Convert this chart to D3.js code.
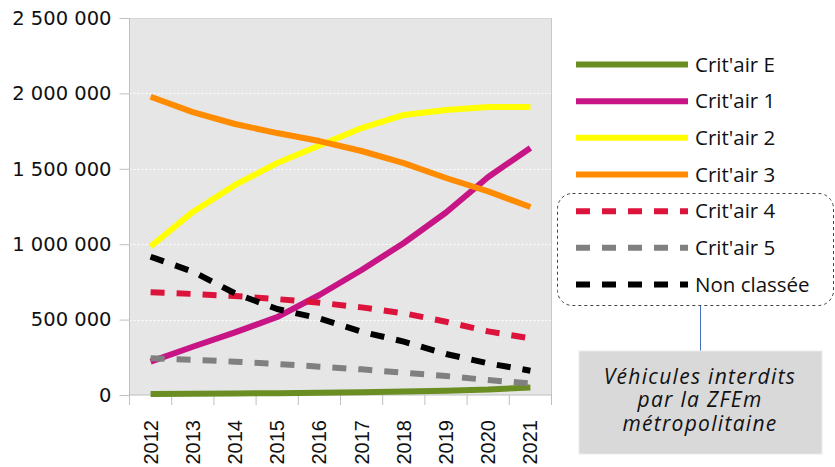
<!DOCTYPE html>
<html>
<head>
<meta charset="utf-8">
<script src="https://cdn.jsdelivr.net/npm/d3@7"></script>
<style>
  html, body { margin: 0; padding: 0; background: #fff; }
  svg { display: block; }
</style>
</head>
<body>
<svg id="chart" width="835" height="467"></svg>
<script>
const years = ["2012","2013","2014","2015","2016","2017","2018","2019","2020","2021"];
const yTicks = [0, 500000, 1000000, 1500000, 2000000, 2500000];
const seriesNames = ["Crit'air E","Crit'air 1","Crit'air 2","Crit'air 3","Crit'air 4","Crit'air 5","Non classée"];
const seriesColors = ["#6b8e23","#c71585","#ffff00","#ff8c00","#dc143c","#808080","#000000"];
const seriesDashed = [false,false,false,false,true,true,true];
const critairE   = [7000, 8000, 10000, 12000, 15000, 19000, 24000, 29000, 36000, 50000];
const critair1   = [221000, 320000, 415000, 517000, 663000, 829000, 1008000, 1210000, 1446000, 1638000];
const critair2   = [985000, 1214000, 1393000, 1538000, 1655000, 1770000, 1857000, 1890000, 1910000, 1910000];
const critair3   = [1978000, 1876000, 1797000, 1737000, 1684000, 1618000, 1538000, 1439000, 1350000, 1247000];
const critair4   = [681000, 670000, 656000, 636000, 612000, 581000, 542000, 486000, 422000, 376000];
const critair5   = [243000, 234000, 221000, 206000, 188000, 170000, 148000, 126000, 99000, 77000];
const nonClassee = [917000, 818000, 674000, 570000, 508000, 420000, 354000, 272000, 210000, 161000];
const seriesValues = [critairE, critair1, critair2, critair3, critair4, critair5, nonClassee];
const annotationLines = ["Véhicules interdits", "par la ZFEm", "métropolitaine"];

const svg = d3.select("#chart");
const pLeft = 129.5, pRight = 551.5, pTop = 18, pBottom = 395;

const x = d3.scaleBand().domain(years).range([pLeft, pRight]).paddingInner(0).paddingOuter(0);
const y = d3.scaleLinear().domain([0, 2500000]).range([pBottom, pTop]);

// plot background
svg.append("rect").attr("x", pLeft).attr("y", pTop).attr("width", pRight - pLeft).attr("height", pBottom - pTop).attr("fill", "#e6e6e6");

// gridlines
svg.append("g").selectAll("line").data(yTicks.filter(d => d > 0 && d < 2500000)).join("line")
  .attr("x1", pLeft).attr("x2", pRight).attr("y1", d => Math.round(y(d)) + 0.5).attr("y2", d => Math.round(y(d)) + 0.5)
  .attr("stroke", "#ffffff").attr("stroke-width", 1).attr("stroke-dasharray", "2,2");
svg.append("line").attr("x1", pLeft).attr("x2", pRight).attr("y1", pTop + 0.5).attr("y2", pTop + 0.5)
  .attr("stroke", "#c8c8c8").attr("stroke-width", 1).attr("stroke-dasharray", "1,1");
// right border
svg.append("line").attr("x1", pRight).attr("x2", pRight).attr("y1", pTop).attr("y2", pBottom)
  .attr("stroke", "#c8c8c8").attr("stroke-width", 1);

// y axis
const yAxis = d3.axisLeft(y).tickValues(yTicks).tickSize(10).tickPadding(8)
  .tickFormat(d => d3.format(",")(d).replace(/,/g, " "));
const gy = svg.append("g").attr("transform", `translate(${pLeft},0)`).call(yAxis);
gy.select(".domain").attr("stroke", "#bfbfbf").attr("d", `M0,${pTop}V${pBottom}`);
gy.selectAll(".tick line").attr("stroke", "#bfbfbf");
gy.selectAll(".tick text").attr("font-family", "'DejaVu Sans', sans-serif").attr("font-size", 19.5).attr("fill", "#111");

// x axis
const gx = svg.append("g").attr("transform", `translate(0,${pBottom})`);
gx.append("line").attr("x1", pLeft).attr("x2", pRight).attr("y1", 0).attr("y2", 0).attr("stroke", "#bfbfbf");
gx.selectAll("line.tk").data(years.concat(["end"])).join("line").attr("class", "tk")
  .attr("x1", (d, i) => i < years.length ? x(d) : pRight).attr("x2", (d, i) => i < years.length ? x(d) : pRight)
  .attr("y1", 0).attr("y2", 10).attr("stroke", "#bfbfbf");
gx.selectAll("text").data(years).join("text")
  .attr("transform", d => `translate(${x(d) + x.bandwidth() / 2 + 7},25) rotate(-90)`)
  .attr("text-anchor", "end")
  .attr("font-family", "'Liberation Sans', Arial, sans-serif").attr("font-size", 20).attr("fill", "#111")
  .text(d => d);

// lines
const line = d3.line().x((d, i) => x(years[i]) + x.bandwidth() / 2).y(d => y(d));
svg.append("g").selectAll("path").data(seriesValues).join("path")
  .attr("d", d => line(d))
  .attr("fill", "none")
  .attr("stroke", (d, i) => seriesColors[i])
  .attr("stroke-width", 6)
  .attr("stroke-dasharray", (d, i) => seriesDashed[i] ? "14,12" : null)
  .attr("stroke-linejoin", "round");

// legend
const legY = d3.scalePoint().domain(seriesNames).range([64.5, 284.5]);
const leg = svg.append("g");
leg.selectAll("line").data(seriesNames).join("line")
  .attr("x1", 576).attr("x2", 688).attr("y1", d => legY(d)).attr("y2", d => legY(d))
  .attr("stroke", (d, i) => seriesColors[i]).attr("stroke-width", 6)
  .attr("stroke-dasharray", (d, i) => seriesDashed[i] ? "14,12" : null);
leg.selectAll("text").data(seriesNames).join("text")
  .attr("x", 695).attr("y", d => legY(d) + 7)
  .attr("font-family", "'Open Sans', sans-serif").attr("font-size", 20.5).attr("fill", "#111")
  .text(d => d);

// dashed rounded box around banned categories
svg.append("rect").attr("x", 557.5).attr("y", 193.5).attr("width", 276).attr("height", 112).attr("rx", 15)
  .attr("fill", "none").attr("stroke", "#444").attr("stroke-width", 1).attr("stroke-dasharray", "3,3");
// connector
svg.append("line").attr("x1", 700.5).attr("x2", 700.5).attr("y1", 306).attr("y2", 351)
  .attr("stroke", "#4472c4").attr("stroke-width", 1);
// annotation box
svg.append("rect").attr("x", 579).attr("y", 351).attr("width", 243).attr("height", 103)
  .attr("fill", "#d9d9d9").attr("stroke", "#ebebeb");
svg.append("g").selectAll("text").data(annotationLines).join("text")
  .attr("x", 700).attr("y", (d, i) => 383.5 + i * 23.5)
  .attr("text-anchor", "middle")
  .attr("font-family", "'Open Sans', sans-serif").attr("font-style", "italic").attr("font-size", 21)
  .attr("letter-spacing", 1.3).attr("fill", "#111")
  .text(d => d);
</script>
</body>
</html>
